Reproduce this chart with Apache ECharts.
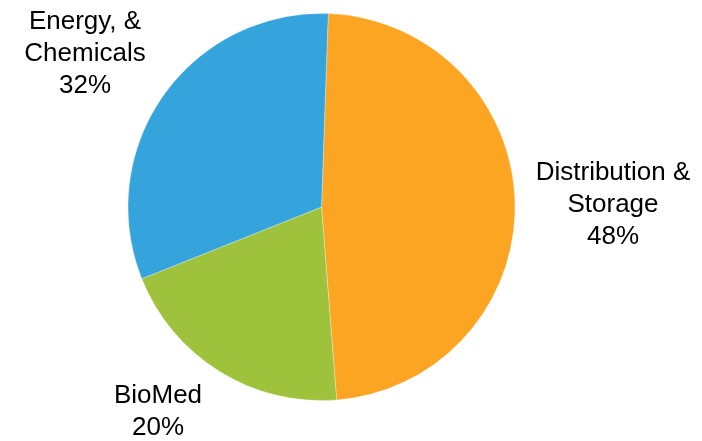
<!DOCTYPE html>
<html>
<head>
<meta charset="utf-8">
<script src="https://cdn.jsdelivr.net/npm/echarts@6/dist/echarts.min.js"></script>
<style>html,body{margin:0;padding:0;background:#fff;}#c{width:702px;height:441px;}</style>
</head>
<body>
<div id="c"></div>
<script>
var categories = ['Distribution &\nStorage', 'BioMed', 'Energy, &\nChemicals'];
var values = [48.2, 20.2, 31.6];
var colors = ['#FBA522', '#9EC23B', '#35A3DC'];
var labelPos = [[613, 205], [158, 412], [85, 54]];

var chart = echarts.init(document.getElementById('c'), null, {renderer: 'canvas'});
chart.setOption({
  animation: false,
  series: [{
    type: 'pie',
    center: [321.5, 207],
    radius: [0, 193.5],
    startAngle: 88,
    clockwise: true,
    data: categories.map(function (n, i) {
      return {name: n, value: values[i], itemStyle: {color: colors[i]}};
    }),
    itemStyle: {borderColor: '#fff', borderWidth: 0.3},
    label: {
      show: true,
      position: 'outside',
      alignTo: 'none',
      overflow: 'none',
      width: 300,
      formatter: function (p) { return p.name + '\n' + Math.round(p.percent) + '%'; },
      fontFamily: 'Liberation Sans, Arial, sans-serif',
      fontSize: 26,
      lineHeight: 32,
      color: '#000',
      align: 'center'
    },
    labelLine: {show: false},
    labelLayout: function (p) {
      var pos = labelPos[p.dataIndex];
      return {x: pos[0], y: pos[1], align: 'center', verticalAlign: 'middle', width: 300};
    },
    emphasis: {disabled: true}
  }]
});
</script>
</body>
</html>
